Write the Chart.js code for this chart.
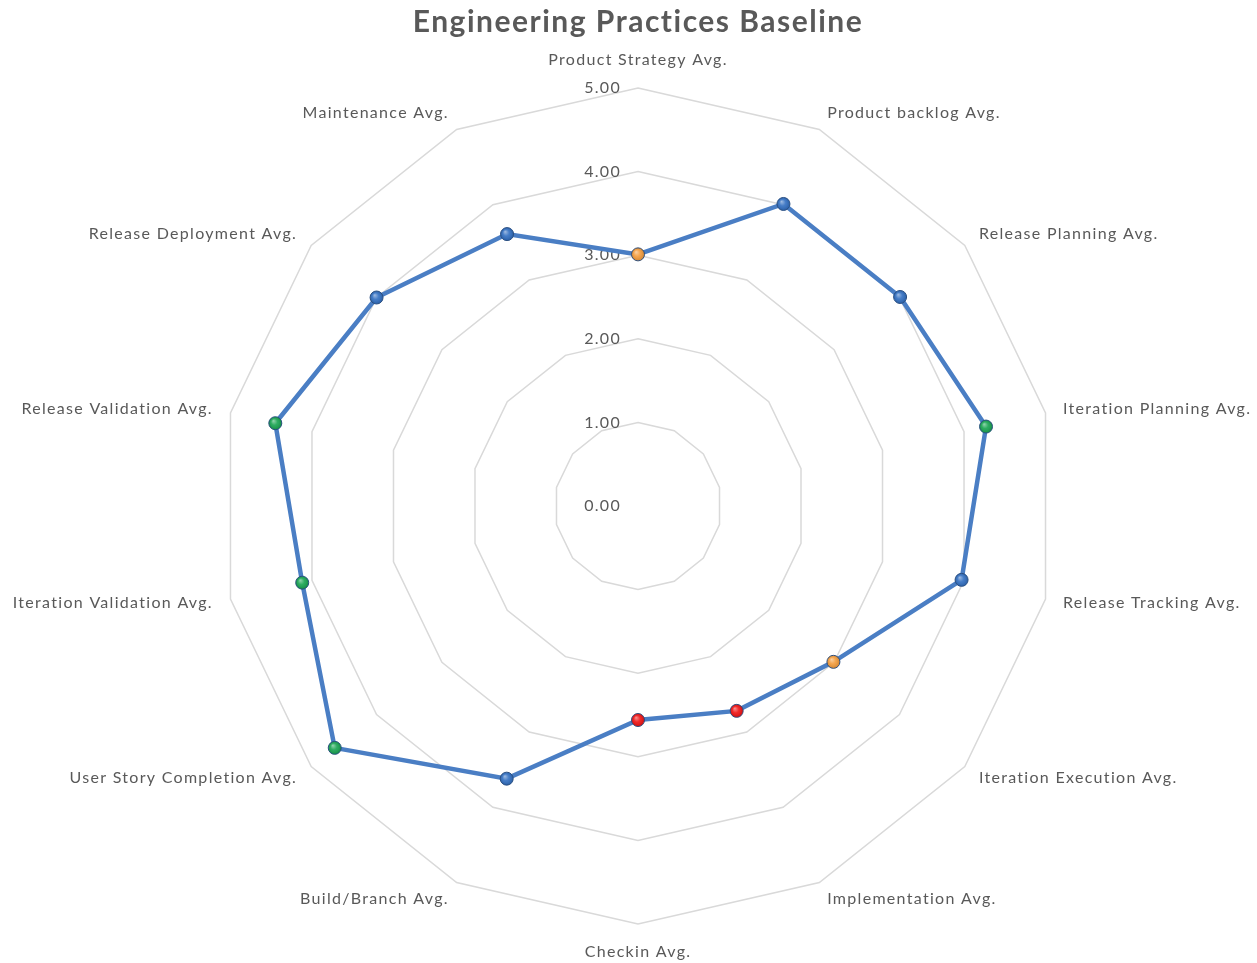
<!DOCTYPE html>
<html>
<head>
<meta charset="utf-8">
<script src="https://cdn.jsdelivr.net/npm/chart.js@4/dist/chart.umd.min.js"></script>
<style>
  html, body { margin: 0; padding: 0; background: #ffffff; }
  #wrap { width: 1257px; height: 963px; }
</style>
</head>
<body>
<div id="wrap"><canvas id="c" width="1257" height="963"></canvas></div>
<script>
const chartTitle = "Engineering Practices Baseline";
const categories = [
  "Product Strategy Avg.",
  "Product backlog Avg.",
  "Release Planning Avg.",
  "Iteration Planning Avg.",
  "Release Tracking Avg.",
  "Iteration Execution Avg.",
  "Implementation Avg.",
  "Checkin Avg.",
  "Build/Branch Avg.",
  "User Story Completion Avg.",
  "Iteration Validation Avg.",
  "Release Validation Avg.",
  "Release Deployment Avg.",
  "Maintenance Avg."
];
const averages = [3.01, 4.01, 4.01, 4.27, 3.97, 2.99, 2.72, 2.56, 3.62, 4.64, 4.12, 4.45, 4.00, 3.61];
const tickValues = [0, 1, 2, 3, 4, 5];
const tickLabels = ["0.00", "1.00", "2.00", "3.00", "4.00", "5.00"];
const pointColors = ["#F39B3A", "#2F6DC0", "#2F6DC0", "#16A34F", "#2F6DC0", "#F39B3A", "#F01010",
                     "#F01010", "#2F6DC0", "#16A34F", "#16A34F", "#16A34F", "#2F6DC0", "#2F6DC0"];

const TEXT = "#595959";
const LABEL_FONT = "16px Lato";

function setSpacing(ctx, px) {
  if ("letterSpacing" in ctx) ctx.letterSpacing = px + "px";
}

const labelPlugin = {
  id: "excelLabels",
  beforeDatasetsDraw(chart) {
    const s = chart.scales.r;
    const ctx = chart.ctx;
    ctx.save();
    ctx.font = LABEL_FONT;
    setSpacing(ctx, 1.3);
    ctx.fillStyle = TEXT;
    ctx.textAlign = "right";
    ctx.textBaseline = "middle";
    tickValues.forEach((v, i) => {
      const d = s.getDistanceFromCenterForValue(v);
      ctx.fillText(tickLabels[i], s.xCenter - 17, s.yCenter - d);
    });
    ctx.restore();
  },
  afterDatasetsDraw(chart) {
    // subtle glossy highlight on each marker (Excel bevel look)
    const meta = chart.getDatasetMeta(0);
    const ctx = chart.ctx;
    ctx.save();
    meta.data.forEach(pt => {
      const g = ctx.createRadialGradient(pt.x - 2, pt.y - 2.5, 0, pt.x, pt.y, 6.5);
      g.addColorStop(0, "rgba(255,255,255,0.55)");
      g.addColorStop(0.5, "rgba(255,255,255,0.1)");
      g.addColorStop(1, "rgba(0,0,0,0.15)");
      ctx.beginPath();
      ctx.arc(pt.x, pt.y, 6, 0, Math.PI * 2);
      ctx.fillStyle = g;
      ctx.fill();
    });
    ctx.restore();
  },
  afterDraw(chart) {
    const s = chart.scales.r;
    const ctx = chart.ctx;
    ctx.save();
    // title
    ctx.font = "bold 30px Lato";
    setSpacing(ctx, 1.5);
    ctx.fillStyle = TEXT;
    ctx.textAlign = "center";
    ctx.textBaseline = "middle";
    ctx.fillText(chartTitle, s.xCenter, 22);
    // category labels
    ctx.font = LABEL_FONT;
    setSpacing(ctx, 1.3);
    const n = categories.length;
    categories.forEach((lab, i) => {
      const ang = i * 360 / n;
      let dist = s.drawingArea + 18;
      let align, base;
      if (i === 0) { align = "center"; base = "bottom"; dist = s.drawingArea + 20; }
      else if (i === n / 2) { align = "center"; base = "top"; dist = s.drawingArea + 20; }
      else { align = ang < 180 ? "left" : "right"; base = "middle"; }
      const p = s.getPointPosition(i, dist);
      ctx.textAlign = align;
      ctx.textBaseline = base;
      ctx.fillText(lab, p.x, p.y);
    });
    ctx.restore();
  }
};

new Chart(document.getElementById("c"), {
  type: "radar",
  data: {
    labels: categories,
    datasets: [{
      label: "Average",
      data: averages,
      borderColor: "#4A7EC4",
      borderWidth: 4.5,
      fill: false,
      backgroundColor: "transparent",
      pointBackgroundColor: pointColors,
      pointBorderColor: "#2B4F80",
      pointBorderWidth: 1,
      pointRadius: 6.5,
      tension: 0
    }]
  },
  options: {
    responsive: false,
    devicePixelRatio: 1,
    animation: false,
    layout: { padding: { left: 220, right: 201, top: 88, bottom: 39 } },
    plugins: {
      legend: { display: false },
      tooltip: { enabled: false },
      title: { display: false }
    },
    scales: {
      r: {
        min: 0,
        max: 5,
        beginAtZero: true,
        ticks: { display: false, stepSize: 1 },
        grid: { color: "#D9D9D9", lineWidth: 1.5, circular: false },
        angleLines: { display: false },
        pointLabels: { display: false }
      }
    }
  },
  plugins: [labelPlugin]
});
</script>
</body>
</html>
